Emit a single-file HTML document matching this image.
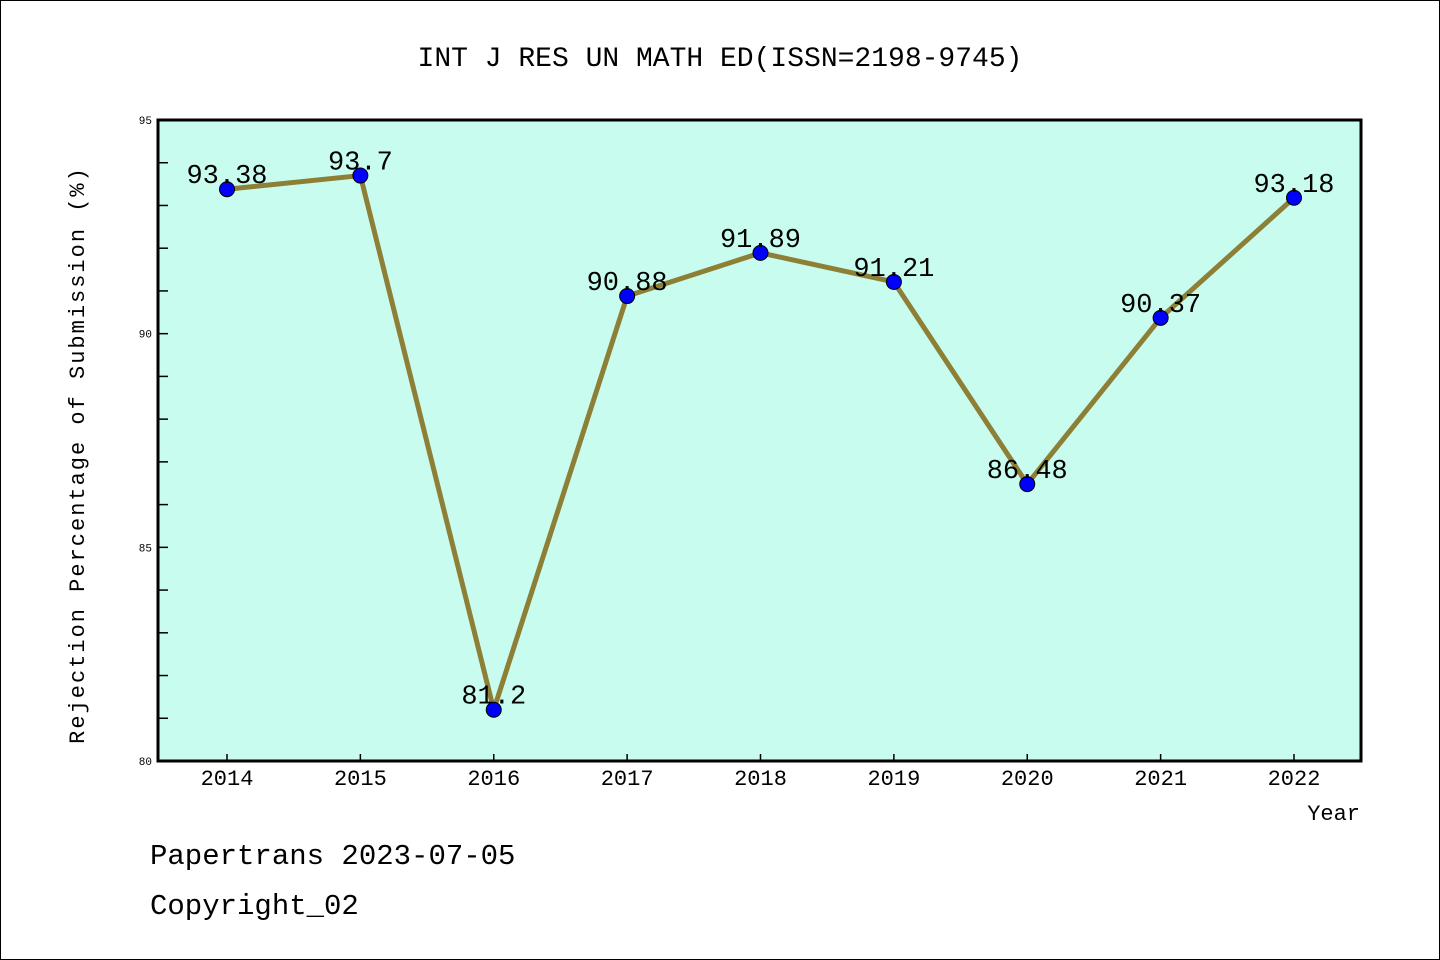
<!DOCTYPE html>
<html><head><meta charset="utf-8"><style>
html,body{margin:0;padding:0;background:#fff}
svg{display:block}
text{font-family:"WenQuanYi Zen Hei Mono","Liberation Mono",monospace;fill:#000}
</style></head><body>
<svg id="chart" width="1440" height="960">
<rect x="0.5" y="0.5" width="1439" height="959" fill="#fff" stroke="#000"/>
<text x="720" y="66" font-size="28" text-anchor="middle">INT J RES UN MATH ED(ISSN=2198-9745)</text>
<rect x="158" y="120" width="1203" height="641" fill="#c8fcee"/>
<g id="ticks"></g>
<g id="series"></g>
<rect x="158" y="120" width="1203" height="641" fill="none" stroke="#000" stroke-width="3"/>
<text transform="translate(84,455) rotate(-90)" font-size="22" text-anchor="middle" letter-spacing="2">Rejection Percentage of Submission (%)</text>
<text x="1360" y="820" font-size="22" text-anchor="end">Year</text>
<text x="150" y="864" font-size="29">Papertrans 2023-07-05</text>
<text x="150" y="914" font-size="29">Copyright_02</text>
</svg>
<script>
const years = ["2014","2015","2016","2017","2018","2019","2020","2021","2022"];
const values = [93.38, 93.7, 81.2, 90.88, 91.89, 91.21, 86.48, 90.37, 93.18];
const labels = ["93.38","93.7","81.2","90.88","91.89","91.21","86.48","90.37","93.18"];
const yTicks = [80, 85, 90, 95];
const yMin = 80, yMax = 95;
const NS = "http://www.w3.org/2000/svg";
const plotLeft = 158, plotRight = 1361, plotTop = 120, plotBottom = 761;
const x0 = 227, xStep = (1294 - 227) / 8;
function xs(i){ return x0 + i * xStep; }
function ys(v){ return plotBottom - (v - yMin) / (yMax - yMin) * (plotBottom - plotTop); }
function mk(tag, attrs, parent){ const e = document.createElementNS(NS, tag); for (const k in attrs) e.setAttribute(k, attrs[k]); parent.appendChild(e); return e; }
const tg = document.getElementById("ticks");
for (let v = yMin + 1; v < yMax; v++) {
  const t = mk("line", {x1: plotLeft, x2: plotLeft + 10, y1: ys(v), y2: ys(v), stroke: "#000", "stroke-width": 1.5}, tg);
  
  
}
yTicks.forEach(v => {
  const t = mk("text", {x: plotLeft - 6, y: ys(v) + 4, "font-size": 11, "text-anchor": "end"}, tg);
  t.textContent = v;
  
  
});
years.forEach((y, i) => {
  const t = mk("line", {x1: xs(i), x2: xs(i), y1: plotBottom, y2: plotBottom - 7, stroke: "#000", "stroke-width": 1.5}, tg);
  
  
  const l = mk("text", {x: xs(i), y: plotBottom + 24, "font-size": 22, "text-anchor": "middle"}, tg);
  l.textContent = y;
  
  
});
const sg = document.getElementById("series");
const pl = mk("polyline", {points: values.map((v, i) => xs(i) + "," + ys(v)).join(" "), fill: "none", stroke: "#8d7f36", "stroke-width": 5, "stroke-linejoin": "round"}, sg);


values.forEach((v, i) => {
  const c = mk("circle", {cx: xs(i), cy: ys(v), r: 7.5, fill: "#0000ff", stroke: "#000", "stroke-width": 1}, sg);
  
  
});
values.forEach((v, i) => {
  const t = mk("text", {x: xs(i), y: ys(v) - 6, "font-size": 27, "text-anchor": "middle"}, sg);
  t.textContent = labels[i];
  
  
});
</script>
</body></html>
